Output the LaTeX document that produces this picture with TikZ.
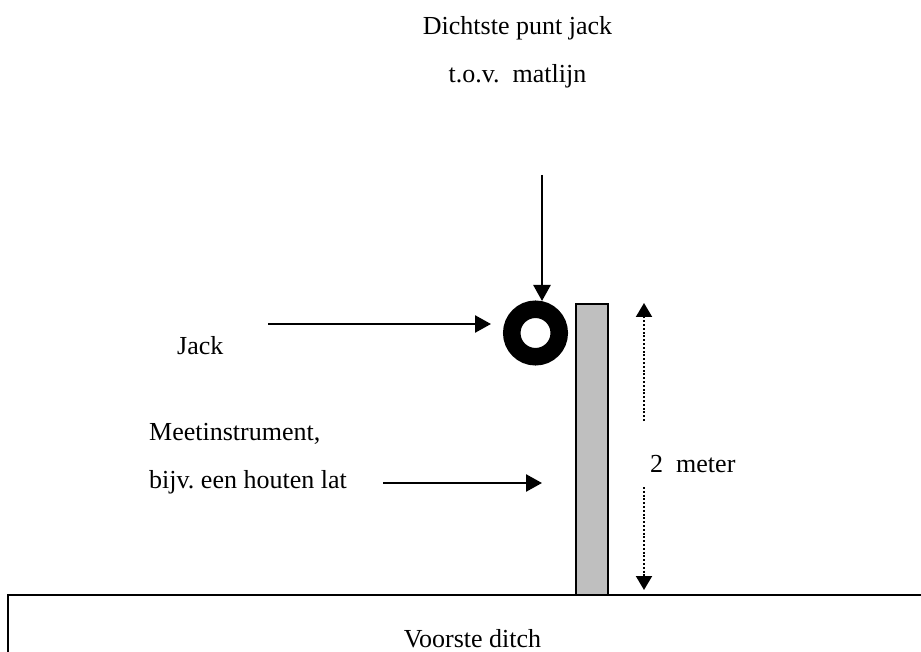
\documentclass[tikz,border=0pt]{standalone}
\usepackage{fontspec}
\setmainfont{Liberation Serif}
\usetikzlibrary{arrows.meta}
\frenchspacing
\begin{document}
\begin{tikzpicture}[x=1pt,y=-1pt,
  txt/.style={inner sep=0pt,font=\fontsize{26}{30}\selectfont},
  pointer/.style={line width=2.5pt,-{Triangle[length=16pt,width=17pt]}},
  span/.style={line width=2pt,dash pattern=on 2pt off 1.8pt,-{Triangle[length=14pt,width=16pt]}},
  ring/.style={circle,draw,line width=17.5pt,minimum size=47.5pt,inner sep=0pt}]
  \useasboundingbox (0,0) rectangle (921,652);

  \node[txt,anchor=base] (top1) at (517.5,35) {Dichtste punt jack};
  \node[txt,anchor=base] (top2) at (517.5,83) {t.o.v.\ \ matlijn};
  \node[txt,anchor=base west] (jack) at (177,354) {Jack};
  \node[txt,anchor=base west] (meet1) at (149,440) {Meetinstrument,};
  \node[txt,anchor=base west] (meet2) at (149,488) {bijv. een houten lat};
  \node[txt,anchor=base west] (len) at (650,472) {2\ \ meter};
  \node[txt,anchor=base] (ditch) at (472.5,647) {Voorste ditch};

  \node[ring] (jackring) at (535.5,333) {};

  \coordinate (down0) at (542,175);
  \coordinate (down1) at (542,301);
  \coordinate (jack0) at (268,324);
  \coordinate (jack1) at (491,324);
  \coordinate (lat0) at (383,483);
  \coordinate (lat1) at (542,483);
  \coordinate (up0) at (644,421);
  \coordinate (up1) at (644,303);
  \coordinate (lo0) at (644,487);
  \coordinate (lo1) at (644,590);

  % lat
  \draw[line width=2pt,fill=black!25] (576,304) rectangle (608,595);

  % ditch
  \draw[line width=2pt] (8,653) -- (8,595) -- (922,595);

  \draw[pointer] (down0) -- (down1);
  \draw[pointer] (jack0) -- (jack1);
  \draw[pointer] (lat0) -- (lat1);
  \draw[span] (up0) -- (up1);
  \draw[span] (lo0) -- (lo1);

\end{tikzpicture}
\end{document}
